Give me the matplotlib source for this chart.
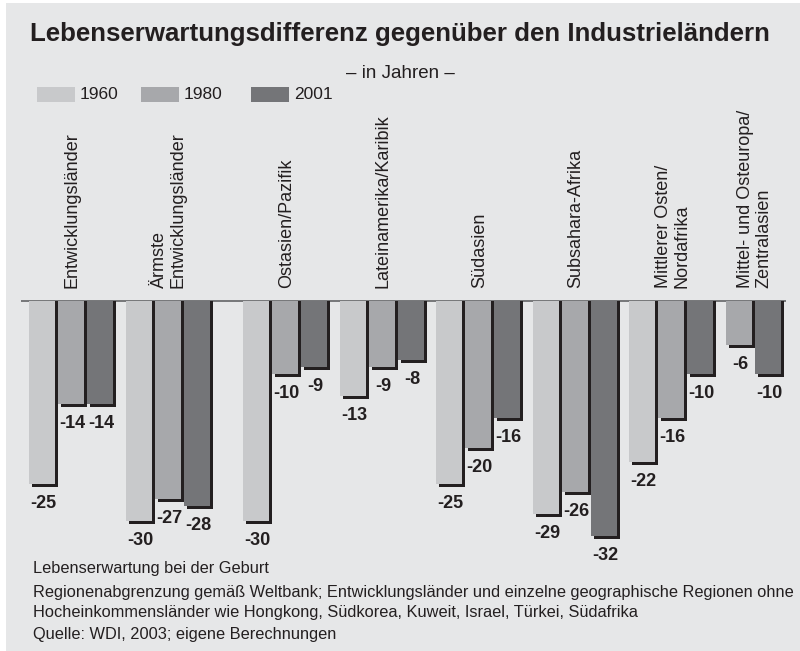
import matplotlib
matplotlib.use("Agg")
import matplotlib.pyplot as plt
from matplotlib.patches import Rectangle

# ---------------- data ----------------
categories = [
    "Entwicklungsländer",
    "Ärmste\nEntwicklungsländer",
    "Ostasien/Pazifik",
    "Lateinamerika/Karibik",
    "Südasien",
    "Subsahara-Afrika",
    "Mittlerer Osten/\nNordafrika",
    "Mittel- und Osteuropa/\nZentralasien",
]
years = ["1960", "1980", "2001"]
v1960 = [-25, -30, -30, -13, -25, -29, -22, None]
v1980 = [-14, -27, -10, -9, -20, -26, -16, -6]
v2001 = [-14, -28, -9, -8, -16, -32, -10, -10]

title = "Lebenserwartungsdifferenz gegenüber den Industrieländern"
subtitle = "– in Jahren –"
notes = [
    "Lebenserwartung bei der Geburt",
    "Regionenabgrenzung gemäß Weltbank; Entwicklungsländer und einzelne geographische Regionen ohne",
    "Hocheinkommensländer wie Hongkong, Südkorea, Kuweit, Israel, Türkei, Südafrika",
    "Quelle: WDI, 2003; eigene Berechnungen",
]

# ---------------- style ----------------
colors = ["#c8c9cb", "#a7a8ab", "#747578"]
shadow = "#231f20"
bg = "#e6e7e8"
txt = "#231f20"
plt.rcParams["font.family"] = ["Liberation Sans", "DejaVu Sans"]

W, H = 800, 651
ZERO = 301.0     # pixel row of zero line
PX = 7.33        # pixels per year
BW = 26          # bar width px
SH = 3           # shadow offset px
PITCH = 29

fig = plt.figure(figsize=(W / 100, H / 100), dpi=100)
fig.patch.set_facecolor("white")
fig.patches.append(Rectangle((6 / W, 0), 1 - 6 / W, 1 - 3 / H,
                             transform=fig.transFigure, facecolor=bg,
                             edgecolor="none", zorder=-5))

ax = fig.add_axes([0, 0, 1, 1])
ax.set_xlim(0, W)
ax.set_ylim(-(H - ZERO) / PX, ZERO / PX)
ax.axis("off")
ax.patch.set_alpha(0)


def fy(p):
    return 1 - p / H


# zero line
ax.plot([21, 786], [0, 0], color="#6d6e70", lw=1.3, zorder=1,
        solid_capstyle="butt")

series = [v1960, v1980, v2001]
sy = SH / PX
for i, cat in enumerate(categories):
    start = 29 + 96.5 * i + (21 if i >= 2 else 0)
    slot = 0
    centers = []
    for k, vals in enumerate(series):
        v = vals[i]
        if v is None:
            continue
        x = start + slot * PITCH
        slot += 1
        ax.bar(x + SH, v - sy, width=BW, align="edge", color=shadow,
               zorder=2, linewidth=0)
        ax.bar(x, v, width=BW, align="edge", color=colors[k],
               zorder=3, linewidth=0)
        ax.text(x + (BW + SH) / 2, v - sy - 1.1, str(v), ha="center",
                va="top", fontsize=13, fontweight="bold", color=txt,
                zorder=4)
        centers.append(x + (BW + SH) / 2)
    cx = sum(centers) / len(centers)
    ax.text(cx, (ZERO - 288) / PX, cat, rotation=90, ha="center",
            va="bottom", multialignment="left", fontsize=13,
            color=txt, linespacing=1.15)

# title & subtitle
fig.text(0.5, fy(34), title, ha="center", va="center", fontsize=18.6,
         fontweight="bold", color=txt)
fig.text(0.5, fy(73), subtitle, ha="center", va="center", fontsize=13.5,
         color=txt)

# legend
leg_x = [37, 141, 251]
for k, y in enumerate(years):
    fig.patches.append(Rectangle((leg_x[k] / W, fy(102)), 38 / W, 15 / H,
                                 transform=fig.transFigure,
                                 facecolor=colors[k], edgecolor="none",
                                 zorder=1))
    fig.text((leg_x[k] + 43) / W, fy(94.5), y, ha="left", va="center",
             fontsize=12.5, color=txt)

# notes
note_y = [568, 592, 612, 634]
for t, yy in zip(notes, note_y):
    fig.text(33 / W, fy(yy), t, ha="left", va="center", fontsize=11.8,
             color=txt)

fig.savefig("out.png", dpi=100, facecolor=fig.get_facecolor())
